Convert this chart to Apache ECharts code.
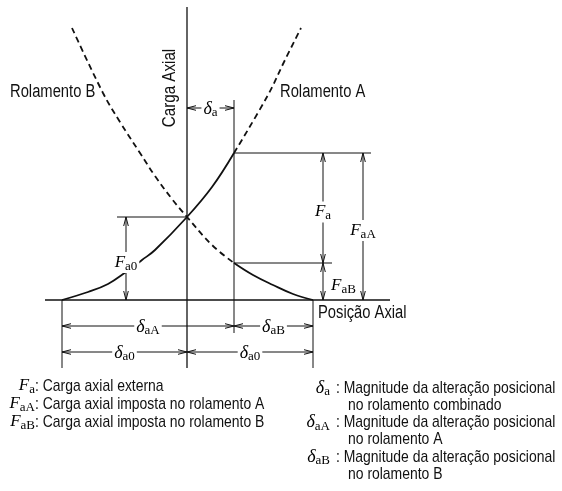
<!DOCTYPE html>
<html lang="pt">
<head>
<meta charset="utf-8">
<title>Carga axial x posição axial</title>
<script src="https://cdn.jsdelivr.net/npm/echarts@6/dist/echarts.min.js"></script>
<style>
  html, body { margin: 0; padding: 0; background: #fff; }
  #chart { width: 562px; height: 491px; }
</style>
</head>
<body>
<div id="chart"></div>
<script>
// posição axial (x, origem no eixo de carga) e carga axial (F)
var curveASolid  = [[-125, 0], [-99, 8], [-79, 16], [-61, 28], [-45, 40], [-32, 50], [0, 83], [25, 113], [47, 147]];
var curveADashed = [[47, 147], [81, 205], [97, 238], [114, 272]];
var curveBDashed = [[-115, 272], [-84, 207], [-67, 178], [-47, 147], [-32, 124], [-15, 101], [0, 83], [25, 55], [47, 37]];
var curveBSolid  = [[47, 37], [66, 25], [86, 15], [106, 6], [126, 0]];

// eixos: [x1, F1, x2, F2]
var axisLines = [
  [-142, 0, 203, 0],
  [0, 293, 0, -68]
];
// linhas de chamada
var guideLines = [
  [47, 200, 47, -33],
  [-125, 0, -125, -68],
  [126, 0, 126, -68],
  [-70, 83, 0, 83],
  [47, 147, 184, 147],
  [47, 37, 145, 37]
];
// cotas: [x1, F1, x2, F2]
var dimLines = [
  [0, 192, 47, 192],
  [-125, -26, 47, -26],
  [47, -26, 126, -26],
  [-125, -52, 0, -52],
  [0, -52, 126, -52],
  [-61, 0, -61, 83],
  [136, 37, 136, 147],
  [136, 0, 136, 37],
  [176, 0, 176, 147]
];
var dimSymbols = ['δ', 'δ', 'δ', 'δ', 'δ', 'F', 'F', 'F', 'F'];
var dimSubs    = ['a', 'aA', 'aB', 'a0', 'a0', 'a0', 'a', 'aB', 'aA'];

var leftSymbols = ['F', 'F', 'F'];
var leftSubs    = ['a', 'aA', 'aB'];
var leftTexts   = ['Carga axial externa', 'Carga axial imposta no rolamento A', 'Carga axial imposta no rolamento B'];

var rightSymbols = ['δ', 'δ', 'δ'];
var rightSubs    = ['a', 'aA', 'aB'];
var rightTexts   = ['Magnitude da alteração posicional', 'Magnitude da alteração posicional', 'Magnitude da alteração posicional'];
var rightTexts2  = ['no rolamento combinado', 'no rolamento A', 'no rolamento B'];

var INK = '#111';
// sem fonte estreita instalada: Liberation Sans comprimida na horizontal
var SANS = '"Liberation Sans", Arial, sans-serif';
var NARROW = 0.82;
var SERIF = '"Liberation Serif", "DejaVu Serif", serif';

var mathRich = {
  F: { fontFamily: SERIF, fontStyle: 'italic', fontSize: 17, color: INK },
  d: { fontFamily: SERIF, fontStyle: 'italic', fontSize: 18, color: INK },
  s: { fontFamily: SERIF, fontSize: 13, color: INK, padding: [8, 0, 0, 0] }
};
function mathText(sym, sub) {
  return '{' + (sym === 'F' ? 'F' : 'd') + '|' + sym + '}{s|' + sub + '}';
}

function renderSegment(width) {
  return function (params, api) {
    var p1 = api.coord([api.value(0), api.value(1)]);
    var p2 = api.coord([api.value(2), api.value(3)]);
    return {
      type: 'line',
      shape: { x1: p1[0], y1: p1[1], x2: p2[0], y2: p2[1] },
      style: { stroke: INK, lineWidth: width }
    };
  };
}

function arrowHead(tip, dir) {
  var L = 9, W = 2.3;
  var bx = tip[0] + dir[0] * L, by = tip[1] + dir[1] * L;
  return {
    type: 'polyline',
    shape: { points: [[bx - dir[1] * W, by + dir[0] * W], tip, [bx + dir[1] * W, by - dir[0] * W]] },
    style: { stroke: INK, fill: null, lineWidth: 1 }
  };
}

function renderDim(params, api) {
  var i = params.dataIndex;
  var p1 = api.coord([api.value(0), api.value(1)]);
  var p2 = api.coord([api.value(2), api.value(3)]);
  var dx = p2[0] - p1[0], dy = p2[1] - p1[1];
  var len = Math.sqrt(dx * dx + dy * dy);
  var ux = dx / len, uy = dy / len;
  var horiz = Math.abs(dx) > Math.abs(dy);
  var mid = [(p1[0] + p2[0]) / 2, (p1[1] + p2[1]) / 2];
  // a cota FaB é curta demais: texto ao lado
  var outside = !horiz && dimSubs[i] === 'aB';
  return {
    type: 'group',
    children: [
      { type: 'line', shape: { x1: p1[0], y1: p1[1], x2: p2[0], y2: p2[1] }, style: { stroke: INK, lineWidth: 1 } },
      arrowHead(p1, [ux, uy]),
      arrowHead(p2, [-ux, -uy]),
      {
        type: 'text',
        x: outside ? mid[0] + 6 : mid[0],
        y: mid[1] + (horiz ? 1 : 4),
        style: {
          text: mathText(dimSymbols[i], dimSubs[i]),
          rich: mathRich,
          align: outside ? 'left' : 'center',
          verticalAlign: 'middle',
          backgroundColor: outside ? null : '#fff',
          padding: [0, 2]
        }
      }
    ]
  };
}

function curve(data, dashed) {
  return {
    type: 'line', data: data, smooth: 0.4, symbol: 'none', silent: true,
    lineStyle: { color: INK, width: 1.8, type: dashed ? [6, 4] : 'solid' }
  };
}

function label(text, x, y, size, extra) {
  var el = {
    type: 'text', x: x, y: y, scaleX: NARROW,
    style: { text: text, fontFamily: SANS, fontSize: size, fill: INK, align: 'left', verticalAlign: 'middle' }
  };
  for (var k in extra) el[k] = extra[k];
  return el;
}

var graphics = [
  label('Rolamento B', 10, 92, 18),
  label('Rolamento A', 280, 92, 18),
  label('Posição Axial', 318, 313, 18)
];
var axisTitle = label('Carga Axial', 170, 88, 18.5, { rotation: Math.PI / 2 });
axisTitle.style.align = 'center';
graphics.push(axisTitle);

leftTexts.forEach(function (t, i) {
  var y = 386 + i * 18;
  graphics.push({ type: 'text', x: 35, y: y, style: { text: mathText(leftSymbols[i], leftSubs[i]), rich: mathRich, align: 'right', verticalAlign: 'middle' } });
  graphics.push(label(': ' + t, 35, y, 17));
});

rightTexts.forEach(function (t, i) {
  var y = 388 + i * 34.5;
  graphics.push({ type: 'text', x: 330, y: y, style: { text: mathText(rightSymbols[i], rightSubs[i]), rich: mathRich, align: 'right', verticalAlign: 'middle' } });
  graphics.push(label(': ' + t, 336, y, 17));
  graphics.push(label(rightTexts2[i], 348, y + 17, 17));
});

var chart = echarts.init(document.getElementById('chart'));
chart.setOption({
  animation: false,
  backgroundColor: '#fff',
  grid: { left: 0, right: 0, top: 0, bottom: 0 },
  xAxis: { type: 'value', min: -187, max: 375, show: false },
  yAxis: { type: 'value', min: -191, max: 300, show: false },
  series: [
    { type: 'custom', data: axisLines, renderItem: renderSegment(1.3), silent: true, clip: false },
    { type: 'custom', data: guideLines, renderItem: renderSegment(1), silent: true, clip: false },
    curve(curveASolid, false),
    curve(curveADashed, true),
    curve(curveBDashed, true),
    curve(curveBSolid, false),
    { type: 'custom', data: dimLines, renderItem: renderDim, silent: true, clip: false, z: 5 }
  ],
  graphic: graphics
});
</script>
</body>
</html>
